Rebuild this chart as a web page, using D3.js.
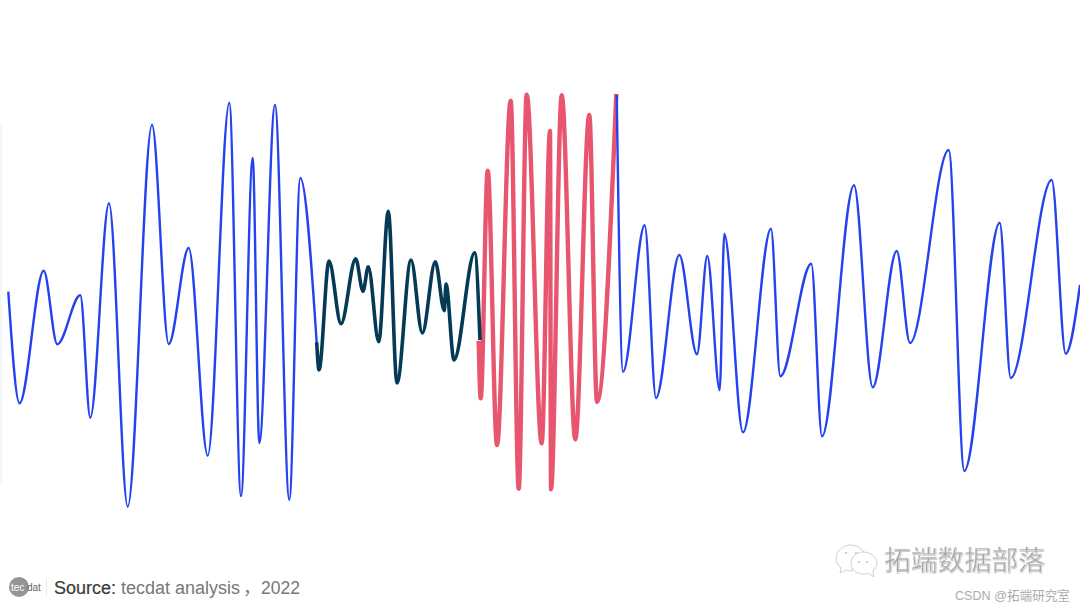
<!DOCTYPE html>
<html><head><meta charset="utf-8">
<style>html,body{margin:0;padding:0;background:#fff;overflow:hidden}svg{display:block}</style>
<script src="https://cdn.jsdelivr.net/npm/d3@7"></script></head>
<body><svg id="c" width="1080" height="608"></svg>
<script>
const introTime=[8.3,19.5,43.7,57.3,80.3,90.3,109,127.7,152,168.7,188.7,207.7,229.3,241,252.7,259.3,275,289.3,300.3,316.7];
const introAmp=[8.3,-103.3,29.3,-44.3,4.7,-117.7,96.7,-206.7,175.3,-44,52,-155.7,197.3,-196,142,-143,195,-199.7,122,-43];
const darkTime=[316.7,319,329,341,355.7,363,368.3,378.7,388.3,397,411,422.3,435.3,444.3,446,454,474.7,480];
const darkAmp=[-42.3,-70,39,-23.7,41.3,8.7,33.3,-41.7,88.7,-83,40,-33,38.3,-10.7,16,-60,47.3,-40];
const redTime=[478.7,480.7,487.7,497,510.7,518.7,526.7,541.7,550,551,561.7,575.3,589.3,597,616.3];
const redAmp=[-40.7,-98.3,129.3,-145,199.3,-188.7,205.3,-143.3,169,-189.3,204.7,-139.3,185,-101.7,206];
const outroTime=[616.7,623,644.7,656,679.3,697,707.3,719.7,724.3,743,771,780.3,811.3,822,854,872.7,896.7,910,948.7,964.3,999.7,1010.7,1051.7,1065.7,1080];
const outroAmp=[205.3,-71.7,74.7,-98,45,-54.3,44,-90,66,-132.3,71.3,-76.3,36.3,-136.3,114.7,-87.3,49,-43,150,-171,77.3,-78,120,-53.7,15];
const sourceLead="Source:";
const sourceName="tecdat analysis";
const sourceComma="，";
const sourceYear="2022";
const brand="拓端数据部落";
const credit="CSDN @拓端研究室";

const svg=d3.select("#c");
const x=d3.scaleLinear().domain([0,1080]).range([0,1080]);
const y=d3.scaleLinear().domain([-308,300]).range([608,0]);
const line=d3.line().x(d=>x(d[0])).y(d=>y(d[1])).curve(d3.curveMonotoneX);
const defs=svg.append("defs");
const sh=defs.append("filter").attr("id","sh").attr("x","-5%").attr("y","-10%").attr("width","110%").attr("height","125%");
sh.append("feDropShadow").attr("dx",0.5).attr("dy",0.8).attr("stdDeviation",0.4).attr("flood-color","#bbb");

// faint y axis
const axis=d3.axisLeft(d3.scaleLinear().domain([-185,177]).range([y(-185),y(177)])).tickValues([]).tickSize(0);
svg.append("g").attr("transform","translate(0.5,0)").call(axis).select("path").attr("stroke","#eeeeee");

const segs=[
 [introTime,introAmp,"#2443EE",2.4],
 [redTime,redAmp,"#E8556F",4.4],
 [outroTime,outroAmp,"#2443EE",2.4],
 [darkTime,darkAmp,"#043A55",3.6]];
segs.forEach(([t,a,c,w])=>{
 svg.append("path").datum(d3.zip(t,a)).attr("d",line).attr("fill","none").attr("stroke",c).attr("stroke-width",w).attr("stroke-linejoin","round");
});

// footer logo
svg.append("circle").attr("cx",19).attr("cy",587).attr("r",10).attr("fill","#959595");
svg.append("text").attr("x",11).attr("y",590.5).attr("font-family","Liberation Sans").attr("font-size",10).attr("fill","#fff").text("tec");
svg.append("text").attr("x",27).attr("y",590.5).attr("font-family","Liberation Sans").attr("font-size",10).attr("fill","#666").text("dat");
svg.append("line").attr("x1",46.5).attr("x2",46.5).attr("y1",579).attr("y2",596).attr("stroke","#e6e6e6");
const foot=svg.append("g").attr("font-family","Liberation Sans, Noto Sans CJK SC").attr("font-size",18);
foot.append("text").attr("x",54).attr("y",593.5).attr("fill","#3a3a3a").attr("stroke","#3a3a3a").attr("stroke-width",0.2).text(sourceLead);
foot.append("text").attr("x",121).attr("y",593.5).attr("fill","#777").text(sourceName);
foot.append("text").attr("x",243).attr("y",593.5).attr("fill","#777").text(sourceComma);
foot.append("text").attr("x",261).attr("y",593.5).attr("font-size",17.5).attr("fill","#777").text(sourceYear);

// watermark
const bub=svg.append("g").attr("fill","#fff").attr("stroke","#cfcfcf").attr("stroke-width",1);
bub.append("path").attr("d","M851 545c-8 0-15 6-15 13 0 4 2 7 5 10l-1 5 6-3c2 1 4 1 6 1c0-7 6-12 14-13c-1-7-8-13-15-13z");
bub.append("path").attr("d","M863 552c-7 0-12 5-12 11s5 11 12 11c2 0 3 0 5-1l6 4-1-6c2-2 4-5 4-8 0-6-7-11-14-11z");
svg.append("g").attr("fill","#c4c4c4").selectAll("circle").data([[846,553],[856,553],[859,562],[867,562]]).join("circle").attr("cx",d=>d[0]).attr("cy",d=>d[1]).attr("r",1.1);
svg.append("text").attr("x",884).attr("y",570).attr("font-family","Noto Sans CJK SC").attr("font-size",26.8).attr("fill","#a6a6a6").attr("stroke","#fff").attr("stroke-width",0.35).attr("filter","url(#sh)").text(brand);
svg.append("text").attr("x",955).attr("y",600).attr("font-family","Liberation Sans, Noto Sans CJK SC").attr("font-size",12.6).attr("fill","#ababab").text(credit);
</script></body></html>
